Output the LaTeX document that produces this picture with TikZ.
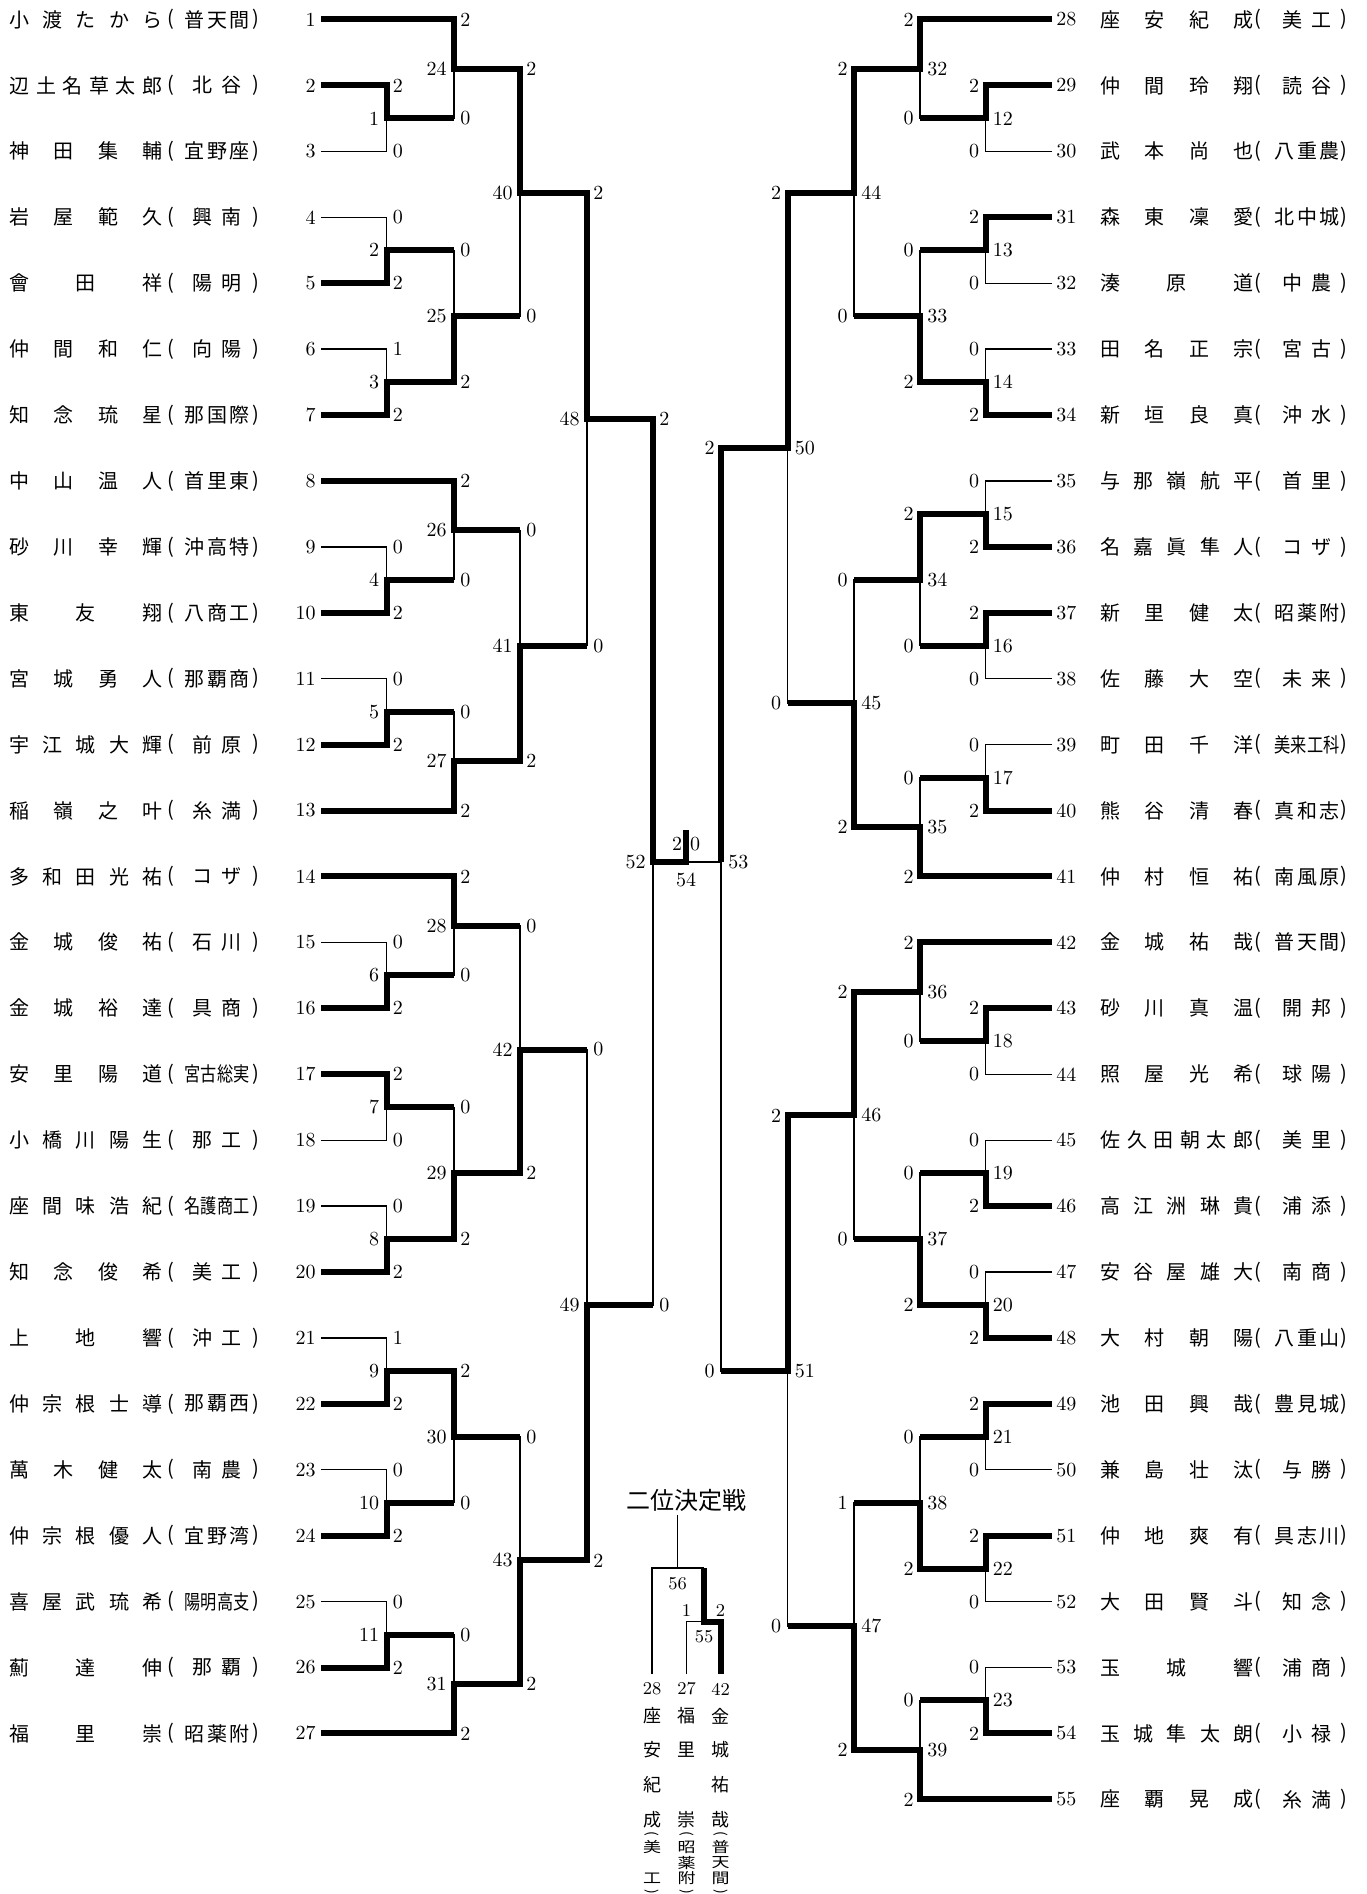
\documentclass[tikz,border=0pt]{standalone}
\usepackage{fontspec}
\usepackage{graphicx}
\newfontfamily\jp{Noto Sans CJK JP}
\usetikzlibrary{calc}
\ExplSyntaxOn
\tl_new:N \l_my_tl
\seq_new:N \l_my_seq
\cs_new_protected:Npn \my_spread:N #1
  {
    \seq_clear:N \l_my_seq
    \tl_map_inline:Nn #1 { \seq_put_right:Nn \l_my_seq {##1} }
    \seq_use:Nn \l_my_seq { \hfill }
  }
\NewDocumentCommand \NameBox { m m }
  {
    \tl_set:Nx \l_my_tl {#2}
    \makebox[#1][s]{ \my_spread:N \l_my_tl }
  }
\NewDocumentCommand \SchoolBox { m m }
  {
    \tl_set:Nx \l_my_tl {#2}
    \int_case:nnF { \tl_count:N \l_my_tl }
      {
        {2} { \makebox[#1][s]{ \hfill \my_spread:N \l_my_tl \hfill } }
        {3} { \makebox[#1][s]{ \my_spread:N \l_my_tl } }
      }
      { \makebox[#1][s]{ \hfill \scalebox{0.81}[1]{\l_my_tl} \hfill } }
  }
\ExplSyntaxOff
\newcommand\Y[1]{19.5+(#1-1)*65.92}
\tikzset{
  thinl/.style={line width=0.65pt},
  thickl/.style={line width=3pt, line join=miter},
  num/.style={font=\fontsize{10}{10}\selectfont, inner sep=0pt},
  snum/.style={font=\fontsize{9}{9}\selectfont, inner sep=0pt},
  jpn/.style={font=\jp\fontsize{10}{10}\selectfont, inner sep=0pt},
  vjp/.style={font=\jp\fontsize{9}{9}\selectfont, inner sep=0pt},
  lml/.style={num, anchor=east, xshift=-3.5pt},
  lsc/.style={num, anchor=west, xshift=3pt},
  rml/.style={num, anchor=west, xshift=3.5pt},
  rsc/.style={num, anchor=east, xshift=-3pt},
}
\begin{document}
\begin{tikzpicture}[x=0.5pt,y=-0.5pt]
\fill[white] (0,0) rectangle (1366,1894);
\useasboundingbox (0,0) rectangle (1366,1894);

% ---------- left players ----------
\foreach \k/\nm/\sc in {1/小渡たから/普天間, 2/辺土名草太郎/北谷, 3/神田集輔/宜野座, 4/岩屋範久/興南,
  5/會田祥/陽明, 6/仲間和仁/向陽, 7/知念琉星/那国際, 8/中山温人/首里東, 9/砂川幸輝/沖高特,
  10/東友翔/八商工, 11/宮城勇人/那覇商, 12/宇江城大輝/前原, 13/稲嶺之叶/糸満, 14/多和田光祐/コザ,
  15/金城俊祐/石川, 16/金城裕達/具商, 17/安里陽道/宮古総実, 18/小橋川陽生/那工, 19/座間味浩紀/名護商工,
  20/知念俊希/美工, 21/上地響/沖工, 22/仲宗根士導/那覇西, 23/萬木健太/南農, 24/仲宗根優人/宜野湾,
  25/喜屋武琉希/陽明高支, 26/薊達伸/那覇, 27/福里崇/昭薬附}{
  \coordinate (p\k) at (321,{\Y{\k}});
  \node[num, anchor=east] (seed\k) at (316,{\Y{\k}}) {\k};
  \node[jpn, anchor=west] (name\k) at (9,{\Y{\k}}) {\NameBox{76.5pt}{\nm}};
  \node[jpn] (po\k) at (171,{\Y{\k}}) {(};
  \node[jpn] (sch\k) at (217,{\Y{\k}}) {\SchoolBox{32.5pt}{\sc}};
  \node[jpn] (pc\k) at (256,{\Y{\k}}) {)};
}
% ---------- right players ----------
\foreach \k/\nm/\sc in {28/座安紀成/美工, 29/仲間玲翔/読谷, 30/武本尚也/八重農, 31/森東凜愛/北中城,
  32/湊原道/中農, 33/田名正宗/宮古, 34/新垣良真/沖水, 35/与那嶺航平/首里, 36/名嘉眞隼人/コザ,
  37/新里健太/昭薬附, 38/佐藤大空/未来, 39/町田千洋/美来工科, 40/熊谷清春/真和志, 41/仲村恒祐/南風原,
  42/金城祐哉/普天間, 43/砂川真温/開邦, 44/照屋光希/球陽, 45/佐久田朝太郎/美里, 46/高江洲琳貴/浦添,
  47/安谷屋雄大/南商, 48/大村朝陽/八重山, 49/池田興哉/豊見城, 50/兼島壮汰/与勝, 51/仲地爽有/具志川,
  52/大田賢斗/知念, 53/玉城響/浦商, 54/玉城隼太朗/小禄, 55/座覇晃成/糸満}{
  \pgfmathsetmacro\j{\k-27}
  \coordinate (p\k) at (1052,{\Y{\j}});
  \node[num, anchor=west] (seed\k) at (1056,{\Y{\j}}) {\k};
  \node[jpn, anchor=west] (name\k) at (1100,{\Y{\j}}) {\NameBox{76.5pt}{\nm}};
  \node[jpn] (po\k) at (1258,{\Y{\j}}) {(};
  \node[jpn] (sch\k) at (1307,{\Y{\j}}) {\SchoolBox{32.5pt}{\sc}};
  \node[jpn] (pc\k) at (1344,{\Y{\j}}) {)};
}
% ---------- match junctions ----------
\foreach \n/\x/\k in {1/386.5/2.5, 2/386.5/4.5, 3/386.5/6.5, 4/386.5/9.5, 5/386.5/11.5, 6/386.5/15.5,
  7/386.5/17.5, 8/386.5/19.5, 9/386.5/21.5, 10/386.5/23.5, 11/386.5/25.5,
  24/454/1.75, 25/454/5.5, 26/454/8.75, 27/454/12.25, 28/454/14.75, 29/454/18.5, 30/454/22.5, 31/454/26.25,
  40/520/3.625, 41/520/10.5, 42/520/16.625, 43/520/24.375, 48/587/7.0625, 49/587/20.5, 52/653/13.78125,
  12/985.5/2.5, 13/985.5/4.5, 14/985.5/6.5, 15/985.5/8.5, 16/985.5/10.5, 17/985.5/12.5, 18/985.5/16.5,
  19/985.5/18.5, 20/985.5/20.5, 21/985.5/22.5, 22/985.5/24.5, 23/985.5/26.5,
  32/920/1.75, 33/920/5.5, 34/920/9.5, 35/920/13.25, 36/920/15.75, 37/920/19.5, 38/920/23.5, 39/920/27.25,
  44/854/3.625, 45/854/11.375, 46/854/17.625, 47/854/25.375, 50/787.5/7.5, 51/787.5/21.5, 53/721/13.78125}{
  \coordinate (m\n) at (\x,{\Y{\k}});
}
\coordinate (c54) at (686,{\Y{13.78125}});
\coordinate (t54) at (686,830);

% ---------- thin skeleton, labels and scores ----------
\foreach \n/\a/\b/\sa/\sb in {1/p2/p3/2/0, 2/p4/p5/0/2, 3/p6/p7/1/2, 4/p9/p10/0/2, 5/p11/p12/0/2,
  6/p15/p16/0/2, 7/p17/p18/2/0, 8/p19/p20/0/2, 9/p21/p22/1/2, 10/p23/p24/0/2, 11/p25/p26/0/2,
  24/p1/m1/2/0, 25/m2/m3/0/2, 26/p8/m4/2/0, 27/m5/p13/0/2, 28/p14/m6/2/0, 29/m7/m8/0/2,
  30/m9/m10/2/0, 31/m11/p27/0/2, 40/m24/m25/2/0, 41/m26/m27/0/2, 42/m28/m29/0/2, 43/m30/m31/0/2,
  48/m40/m41/2/0, 49/m42/m43/0/2, 52/m48/m49/2/0}{
  \draw[thinl] (\a) -| (m\n);
  \draw[thinl] (\b) -| (m\n);
  \node[lml] (lab\n) at (m\n) {\n};
  \node[lsc] (sa\n) at (m\n |- \a) {\sa};
  \node[lsc] (sb\n) at (m\n |- \b) {\sb};
}
\foreach \n/\a/\b/\sa/\sb in {12/p29/p30/2/0, 13/p31/p32/2/0, 14/p33/p34/0/2, 15/p35/p36/0/2,
  16/p37/p38/2/0, 17/p39/p40/0/2, 18/p43/p44/2/0, 19/p45/p46/0/2, 20/p47/p48/0/2, 21/p49/p50/2/0,
  22/p51/p52/2/0, 23/p53/p54/0/2, 32/p28/m12/2/0, 33/m13/m14/0/2, 34/m15/m16/2/0, 35/m17/p41/0/2,
  36/p42/m18/2/0, 37/m19/m20/0/2, 38/m21/m22/0/2, 39/m23/p55/0/2, 44/m32/m33/2/0, 45/m34/m35/0/2,
  46/m36/m37/2/0, 47/m38/m39/1/2, 50/m44/m45/2/0, 51/m46/m47/2/0, 53/m50/m51/2/0}{
  \draw[thinl] (\a) -| (m\n);
  \draw[thinl] (\b) -| (m\n);
  \node[rml] (lab\n) at (m\n) {\n};
  \node[rsc] (sa\n) at (m\n |- \a) {\sa};
  \node[rsc] (sb\n) at (m\n |- \b) {\sb};
}
\draw[thinl] (m52) -- (c54);
\draw[thinl] (m53) -- (c54);

% ---------- thick winner paths, left ----------
\draw[thickl] (p1) -| (m24) -| (m40) -| (m48) -| (m52) -- (c54) -- (t54);
\draw[thickl] (p2) -| (m1) -- (m1 -| m24);
\draw[thickl] (p5) -| (m2) -- (m2 -| m25);
\draw[thickl] (p7) -| (m3) -| (m25) -- (m25 -| m40);
\draw[thickl] (p8) -| (m26) -- (m26 -| m41);
\draw[thickl] (p10) -| (m4) -- (m4 -| m26);
\draw[thickl] (p12) -| (m5) -- (m5 -| m27);
\draw[thickl] (p13) -| (m27) -| (m41) -- (m41 -| m48);
\draw[thickl] (p14) -| (m28) -- (m28 -| m42);
\draw[thickl] (p16) -| (m6) -- (m6 -| m28);
\draw[thickl] (p17) -| (m7) -- (m7 -| m29);
\draw[thickl] (p20) -| (m8) -| (m29) -| (m42) -- (m42 -| m49);
\draw[thickl] (p22) -| (m9) -| (m30) -- (m30 -| m43);
\draw[thickl] (p24) -| (m10) -- (m10 -| m30);
\draw[thickl] (p26) -| (m11) -- (m11 -| m31);
\draw[thickl] (p27) -| (m31) -| (m43) -| (m49) -- (m49 -| m52);
% ---------- thick winner paths, right ----------
\draw[thickl] (p28) -| (m32) -| (m44) -| (m50) -| (m53);
\draw[thickl] (p29) -| (m12) -- (m12 -| m32);
\draw[thickl] (p31) -| (m13) -- (m13 -| m33);
\draw[thickl] (p34) -| (m14) -| (m33) -- (m33 -| m44);
\draw[thickl] (p36) -| (m15) -| (m34) -- (m34 -| m45);
\draw[thickl] (p37) -| (m16) -- (m16 -| m34);
\draw[thickl] (p40) -| (m17) -- (m17 -| m35);
\draw[thickl] (p41) -| (m35) -| (m45) -- (m45 -| m50);
\draw[thickl] (p42) -| (m36) -| (m46) -| (m51) -- (m51 -| m53);
\draw[thickl] (p43) -| (m18) -- (m18 -| m36);
\draw[thickl] (p46) -| (m19) -- (m19 -| m37);
\draw[thickl] (p48) -| (m20) -| (m37) -- (m37 -| m46);
\draw[thickl] (p49) -| (m21) -- (m21 -| m38);
\draw[thickl] (p51) -| (m22) -| (m38) -- (m38 -| m47);
\draw[thickl] (p54) -| (m23) -- (m23 -| m39);
\draw[thickl] (p55) -| (m39) -| (m47) -- (m47 -| m51);

% ---------- final 54 ----------
\node[num] (lab54) at (686,880) {54};
\node[num] (sa54) at (677,844) {2};
\node[num] (sb54) at (695,844) {0};

% ---------- second place playoff ----------
\node[font=\jp\fontsize{12}{12}\selectfont, inner sep=0pt] (title2) at (686,1500) {二位決定戦};
\coordinate (qtop) at (677.7,1515);
\coordinate (q56) at (677.7,1568);
\coordinate (q55) at (704,1621.7);
\coordinate (q28) at (652,1674);
\coordinate (q27) at (686.5,1674);
\coordinate (q42) at (720.5,1674);
\draw[thinl] (qtop) -- (q56);
\draw[thinl] (q28) |- (q55 |- q56);
\draw[thinl] (q27) |- (q55);
\draw[thickl] (q42) |- (q55) -- (q55 |- q56);
\node[snum] (lab56) at (677.7,1584) {56};
\node[snum] (lab55) at (704,1637) {55};
\node[snum] (sa55) at (686.5,1610) {1};
\node[snum] (sb55) at (720.5,1610) {2};
\node[snum] (v28) at (652,1689) {28};
\node[snum] (v27) at (686.5,1689) {27};
\node[snum] (v42) at (720.5,1689) {42};
% vertical names
\foreach \x/\cA/\cB/\cC/\cD [count=\i] in {652/座/安/紀/成, 686.5/福/里/{}/崇, 720.5/金/城/祐/哉}{
  \node[vjp] (va\i) at (\x,1716) {\cA};
  \node[vjp] (vb\i) at (\x,1750) {\cB};
  \node[vjp] (vc\i) at (\x,1785) {\cC};
  \node[vjp] (vd\i) at (\x,1820) {\cD};
  \node[vjp, rotate=-90, font=\jp\fontsize{7}{7}\selectfont] (vo\i) at (\x,1834) {(};
  \node[vjp, rotate=-90, font=\jp\fontsize{7}{7}\selectfont] (vz\i) at (\x,1892) {)};
}
\foreach \x/\sA/\sB/\sC [count=\i] in {652/美/{}/工, 686.5/昭/薬/附, 720.5/普/天/間}{
  \node[vjp] (vs\i a) at (\x,1847) {\scalebox{1}[0.8]{\sA}};
  \node[vjp] (vs\i b) at (\x,1862.5) {\scalebox{1}[0.8]{\sB}};
  \node[vjp] (vs\i c) at (\x,1878) {\scalebox{1}[0.8]{\sC}};
}
\end{tikzpicture}
\end{document}
